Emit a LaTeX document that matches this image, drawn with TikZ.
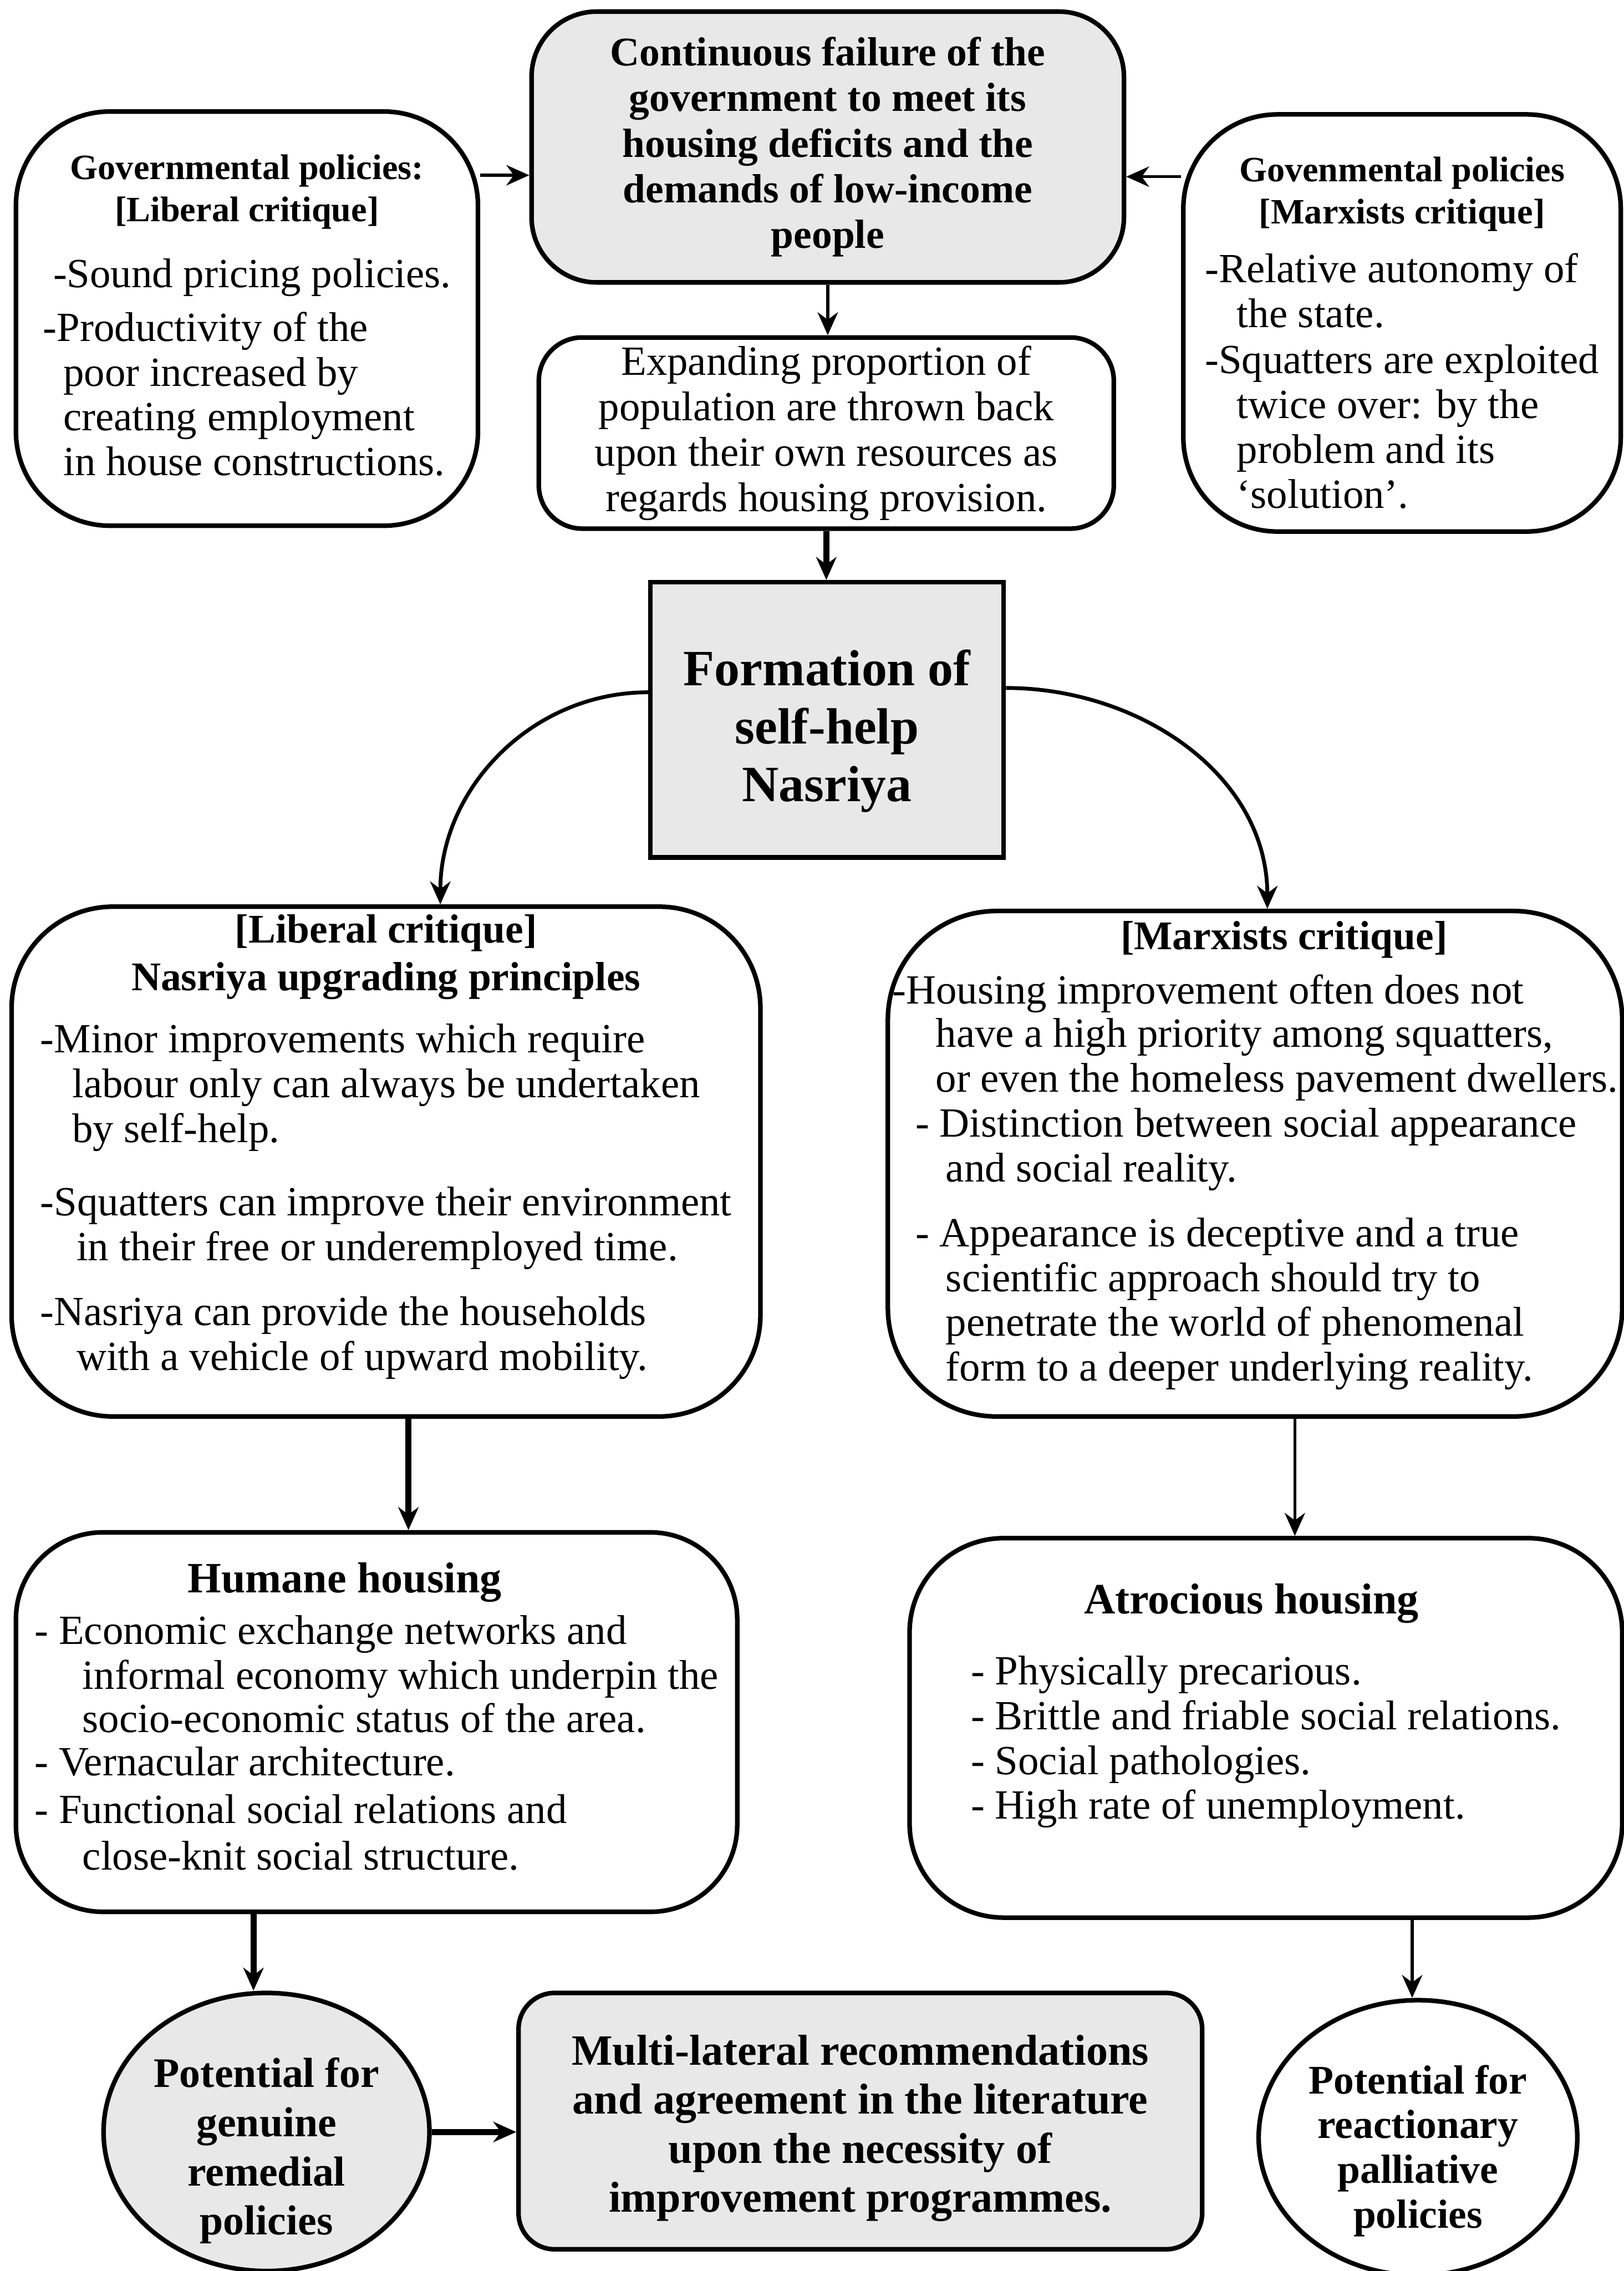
\documentclass[tikz,border=0pt]{standalone}
\usepackage{fontspec}
\setmainfont{Liberation Serif}
\usepackage{xcolor}
\definecolor{shade}{RGB}{126,126,126}
\usepackage{tikz}
\usetikzlibrary{positioning,shapes.geometric,arrows.meta,calc}

\newcommand{\bodyfont}{\fontsize{16.3}{17.6}\selectfont}
\newcommand{\headfont}{\bfseries\fontsize{14}{16.4}\selectfont}
\newcommand{\bighead}{\bfseries\fontsize{16}{18.7}\selectfont}
\newcommand{\subhead}{\bfseries\fontsize{17}{19}\selectfont}
\newcommand{\boxhead}[1]{\multicolumn{1}{@{}c@{}}{#1}}
\newcommand{\ind}[1]{\hspace*{#1}}

\tikzstyle{card} = [draw, line width=1.8pt, inner sep=0pt, font=\bodyfont]
\tikzstyle{stipple} = [fill=shade!18]
\tikzstyle{arrow} = [->, >={Stealth[length=9pt,width=8pt]}, line width=1.2pt]
\tikzstyle{heavy arrow} = [arrow, line width=2.4pt]

\begin{document}
\begin{tikzpicture}
    \useasboundingbox (0,0) rectangle (22.42,-31.36);

    % top row
    \node[card, stipple, rounded corners=0.9cm, minimum width=8.18cm, minimum height=3.74cm,
          align=center, font=\bfseries\fontsize{16}{17.9}\selectfont] (failure) at (11.43,-2.03)
        {Continuous failure of the\\ government to meet its\\ housing deficits and the\\
         demands of low-income\\ people};

    \node[card, rounded corners=1.3cm, minimum width=6.38cm, minimum height=5.72cm] (libpolicy) at (3.41,-4.40)
        {\begin{tabular}{@{}l@{}}
         \boxhead{\headfont Governmental policies:}\\[-1.2pt]
         \boxhead{\headfont [Liberal critique]}\\[8.5pt]
         \ind{0.14cm}-Sound pricing policies.\\[3.4pt]
         -Productivity of the\\
         \ind{0.28cm}poor increased by\\
         \ind{0.28cm}creating employment\\
         \ind{0.28cm}in house constructions.
         \end{tabular}};

    \node[card, rounded corners=1.3cm, minimum width=6.04cm, minimum height=5.76cm] (marxpolicy) at (19.36,-4.46)
        {\begin{tabular}{@{}l@{}}
         \boxhead{\rule{0pt}{22.5pt}\headfont Govenmental policies}\\[-1.2pt]
         \boxhead{\headfont [Marxists critique]}\\[5.6pt]
         -Relative autonomy of\\
         \ind{0.44cm}the state.\\[0.6pt]
         -Squatters are exploited\\
         \ind{0.44cm}twice over: by the\\
         \ind{0.44cm}problem and its\\
         \ind{0.44cm}`solution'.
         \end{tabular}};

    \node[card, rounded corners=0.6cm, minimum width=7.94cm, minimum height=2.64cm,
          align=center, font=\fontsize{16.3}{17.9}\selectfont] (expand) at (11.41,-5.98)
        {Expanding proportion of\\ population are thrown back\\ upon their own resources as\\
         regards housing provision.};

    \node[card, stipple, minimum width=4.88cm, minimum height=3.80cm, align=center,
          font=\bfseries\fontsize{20}{22.7}\selectfont] (formation) at (11.42,-9.94)
        {\rule{0pt}{23pt}Formation of\\ self-help\\ Nasriya};

    % the two critiques
    \node[card, rounded corners=1.4cm, minimum width=10.34cm, minimum height=7.04cm] (libcrit) at (5.33,-16.04)
        {\begin{tabular}{@{}l@{}}
         \boxhead{\bighead [Liberal critique]}\\[1.1pt]
         \boxhead{\bighead Nasriya upgrading principles}\\[6.8pt]
         -Minor improvements which require\\
         \ind{0.44cm}labour only can always be undertaken\\
         \ind{0.44cm}by self-help.\\[11.3pt]
         -Squatters can improve their environment\\
         \ind{0.5cm}in their free or underemployed time.\\[7.9pt]
         -Nasriya can provide the households\\
         \ind{0.5cm}with a vehicle of upward mobility.\\[11pt]
         \end{tabular}};

    \node[card, rounded corners=1.5cm, minimum width=10.14cm, minimum height=6.98cm] (marxcrit) at (17.33,-16.07)
        {\begin{tabular}{@{}l@{}}
         \boxhead{\hspace*{0.8cm}\bighead [Marxists critique]}\\[3.9pt]
         -Housing improvement often does not\\[-0.6pt]
         \ind{0.6cm}have a high priority among squatters,\\
         \ind{0.6cm}or even the homeless pavement dwellers.\\
         \ind{0.32cm}- Distinction between social appearance\\
         \ind{0.74cm}and social reality.\\[7.9pt]
         \ind{0.32cm}- Appearance is deceptive and a true\\
         \ind{0.74cm}scientific approach should try to\\
         \ind{0.74cm}penetrate the world of phenomenal\\
         \ind{0.74cm}form to a deeper underlying reality.\\[6pt]
         \end{tabular}};

    % housing
    \node[card, rounded corners=1.2cm, minimum width=9.96cm, minimum height=5.24cm] (humane) at (5.20,-23.78)
        {\begin{tabular}{@{}l@{}}
         \boxhead{\subhead Humane housing\hspace*{0.88cm}}\\[2.8pt]
         - Economic exchange networks and\\
         \ind{0.66cm}informal economy which underpin the\\[-0.6pt]
         \ind{0.66cm}socio-economic status of the area.\\[-0.6pt]
         - Vernacular architecture.\\[1.1pt]
         - Functional social relations and\\[0.6pt]
         \ind{0.66cm}close-knit social structure.
         \end{tabular}};

    \node[card, rounded corners=1.3cm, minimum width=9.84cm, minimum height=5.24cm] (atrocious) at (17.48,-23.86)
        {\begin{tabular}{@{}l@{}}
         \boxhead{\subhead Atrocious housing\hspace*{0.4cm}}\\[10.2pt]
         - Physically precarious.\\
         - Brittle and friable social relations.\\
         - Social pathologies.\\
         - High rate of unemployment.\\[16pt]
         \end{tabular}};

    % outcomes
    \node[card, stipple, ellipse, minimum width=4.50cm, minimum height=3.84cm] (remedial) at (3.68,-29.44) {};
    \node[align=center, font=\bfseries\fontsize{16.5}{19.3}\selectfont] (remedial-text)
        at ([yshift=-0.26cm]remedial.center) {Potential for\\ genuine\\ remedial\\ policies};

    \node[card, stipple, rounded corners=0.5cm, minimum width=9.44cm, minimum height=3.54cm,
          align=center, font=\bfseries\fontsize{17}{19.3}\selectfont] (multi) at (11.88,-29.29)
        {\rule{0pt}{17.4pt}Multi-lateral recommendations\\ and agreement in the literature\\ upon the necessity of\\
         improvement programmes.};

    \node[card, ellipse, minimum width=4.40cm, minimum height=3.80cm] (reaction) at (19.58,-29.52) {};
    \node[align=center, font=\bfseries\fontsize{16}{17.6}\selectfont] (reaction-text)
        at ([yshift=-0.18cm]reaction.center) {Potential for\\ reactionary\\ palliative\\ policies};

    % connectors
    \draw[arrow] (libpolicy.east |- 0,-2.42) -- (failure.west |- 0,-2.42);
    \draw[arrow] (marxpolicy.west |- 0,-2.44) -- (failure.east |- 0,-2.44);
    \draw[arrow] (failure.south) -- (failure.south |- expand.north);
    \draw[heavy arrow] (expand.south) -- (expand.south |- formation.north);
    \draw[arrow, line width=1.5pt] ([yshift=0.38cm]formation.west) to[out=180,in=90] (libcrit.north -| 6.08,0);
    \draw[arrow, line width=1.5pt] ([yshift=0.44cm]formation.east) to[out=0,in=90] (marxcrit.north -| 17.50,0);
    \draw[heavy arrow] (libcrit.south -| 5.64,0) -- (humane.north -| 5.64,0);
    \draw[arrow] (marxcrit.south -| 17.88,0) -- (atrocious.north -| 17.88,0);
    \draw[heavy arrow] (humane.south -| 3.50,0) -- (remedial.north -| 3.50,0);
    \draw[arrow] (atrocious.south -| 19.50,0) -- (reaction.north -| 19.50,0);
    \draw[heavy arrow] (remedial.east) -- (multi.west |- remedial.east);

\end{tikzpicture}
\end{document}
